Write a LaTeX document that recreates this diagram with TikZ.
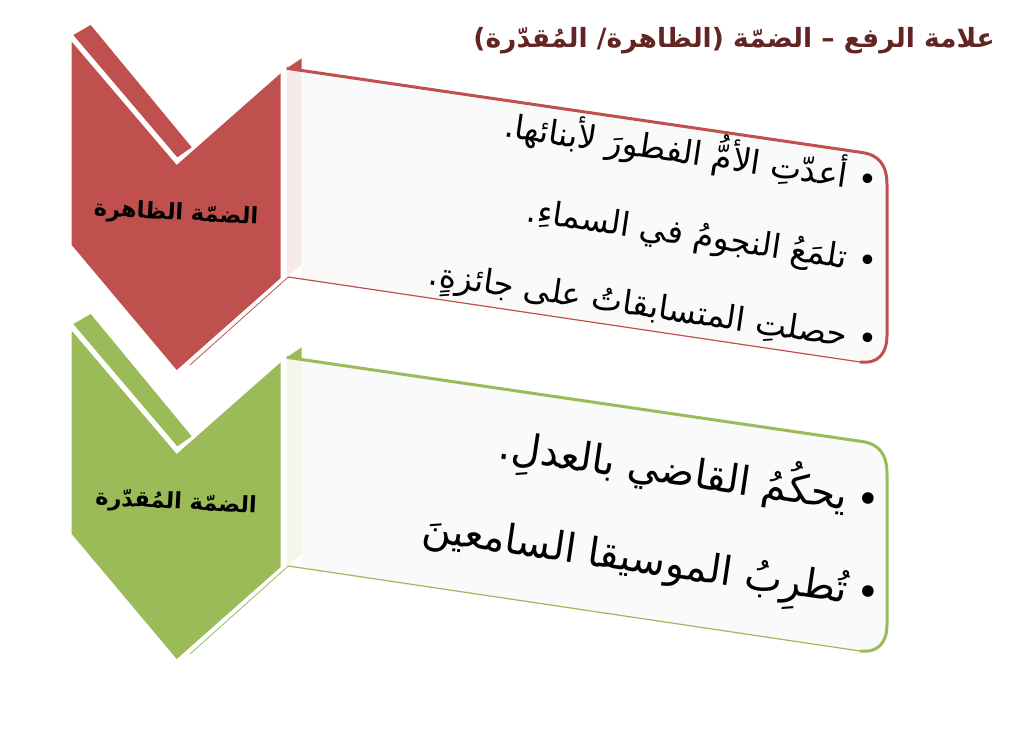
\documentclass[tikz,border=0pt]{standalone}
\usepackage{fontspec}
\newfontfamily\arabicfont[Script=Arabic]{DejaVu Sans}
\TeXXeTstate=1
\definecolor{zahira}{HTML}{C0504D}
\definecolor{muqaddara}{HTML}{9BBB59}
\definecolor{titlered}{HTML}{632523}

\begin{document}
\begin{tikzpicture}[x=1pt,y=-1pt,
        title/.style={text=titlered,font=\arabicfont\bfseries\fontsize{26.5}{30}\selectfont,anchor=east,inner sep=0pt},
        label/.style={font=\arabicfont\bfseries\fontsize{22.5}{26}\selectfont,rotate=-3,inner sep=0pt},
        item/.style={font=\arabicfont\fontsize{33}{38}\selectfont,anchor=base east,rotate=-8.4,inner sep=0pt},
        bigitem/.style={item,font=\arabicfont\fontsize{40}{46}\selectfont}
    ]
        \useasboundingbox (0,0) rectangle (1024,741);

        % Draw the two chevrons and their boxes
        \foreach \col/\dy in {zahira/0,muqaddara/289}{
            \begin{scope}[shift={(0,\dy)}]
                \fill[\col] (71.7,41.7) -- (176.7,165) -- (280.7,73.3) -- (280.7,278)
                    -- (176.7,370) -- (71.7,245) -- cycle;
                \fill[\col] (73.3,35) -- (90.7,25) -- (191.7,147.3) -- (177.3,157.3) -- cycle;
                \draw[\col,line width=0.8] (190,365) -- (288.3,277);
                % box front and side
                \fill[black!2] (301.7,70.5) -- (862,152.5) .. controls (879,155) and (887,165) .. (887,185)
                    -- (887,335) .. controls (887,354) and (878,364) .. (860,362) -- (301.7,279) -- cycle;
                \fill[\col!12] (286.7,68.3) -- (301.7,70.5) -- (301.7,265) -- (286.7,277) -- cycle;
                \fill[\col] (286.7,68.3) -- (301.7,58.3) -- (301.7,70.5) -- cycle;
                \draw[\col,line width=3,line join=round] (286.7,68.3) -- (862,152.5)
                    .. controls (879,155) and (887,165) .. (887,185) -- (887,335)
                    .. controls (887,354) and (878,364) .. (860,362);
                \draw[\col,line width=1.2] (860,362) -- (288.3,277);
            \end{scope}
        }

        % Title
        \node[title] (head) at (995,41) {\beginR علامة الرفع – الضمّة (الظاهرة/ المُقدّرة)\endR};

        % Chevron labels
        \node[label] (zahiraLabel) at (176,214) {\beginR الضمّة الظاهرة\endR};
        \node[label] (muqaddaraLabel) at (176,503) {\beginR الضمّة المُقدّرة\endR};

        % Items of the first box
        \node[item] (z1) at (876,192) {\beginR •\hspace{11pt}أعدّتِ الأمُّ الفطورَ لأبنائها.\endR};
        \node[item] (z2) at (876,273) {\beginR •\hspace{11pt}تلمَعُ النجومُ في السماءِ.\endR};
        \node[item] (z3) at (876,351) {\beginR •\hspace{11pt}حصلتِ المتسابقاتُ على جائزةٍ.\endR};

        % Items of the second box
        \node[bigitem] (m1) at (878,515) {\beginR •\hspace{9pt}يحكُمُ القاضي بالعدلِ.\endR};
        \node[bigitem] (m2) at (878,608) {\beginR •\hspace{9pt}تُطرِبُ الموسيقا السامعينَ\endR};
    \end{tikzpicture}
\end{document}
